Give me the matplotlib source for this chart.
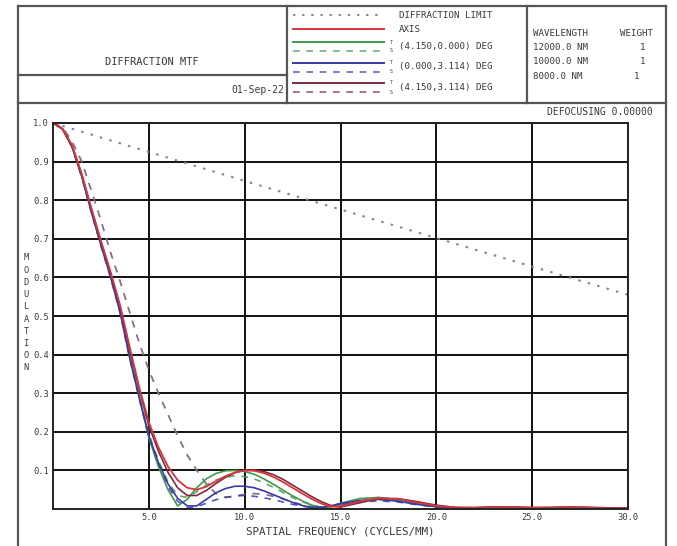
import matplotlib
matplotlib.use("Agg")
import matplotlib.pyplot as plt
from matplotlib.lines import Line2D

W, H = 677, 546

# spatial frequency samples (cycles/mm)
freq = [0, 0.5, 1, 1.5, 2, 2.5, 3, 3.5, 4, 4.5,
        5, 5.5, 6, 6.5, 7, 7.5, 8, 8.5, 9, 9.5, 10, 10.5, 11, 11.5, 12, 12.5, 13, 13.5, 14, 14.5, 15,
        16, 17, 18, 19, 20, 21, 22, 23, 24, 25, 26, 27, 28, 29, 30]

diff_freq = [0, 5, 10, 15, 20, 25, 30]
diff_limit = [1.0, 0.925, 0.85, 0.776, 0.702, 0.628, 0.555]

axis_t = [1.0, 0.985, 0.942, 0.868, 0.78, 0.695, 0.615, 0.528, 0.42, 0.315,
          0.225, 0.16, 0.11, 0.075, 0.055, 0.05, 0.058, 0.072, 0.085, 0.095, 0.1, 0.099, 0.093, 0.083,
          0.07, 0.055, 0.04, 0.026, 0.014, 0.006, 0.006,
          0.02, 0.028, 0.026, 0.017, 0.008, 0.004, 0.003, 0.004, 0.004, 0.003, 0.003, 0.004, 0.003, 0.002, 0.002]
f1_t = [1.0, 0.984, 0.938, 0.862, 0.772, 0.686, 0.605, 0.512, 0.395, 0.29,
        0.185, 0.11, 0.05, 0.008, 0.025, 0.055, 0.078, 0.092, 0.099, 0.1, 0.097, 0.09, 0.078, 0.064,
        0.049, 0.034, 0.021, 0.01, 0.004, 0.007, 0.015,
        0.027, 0.03, 0.024, 0.014, 0.006, 0.003, 0.004, 0.005, 0.004, 0.003, 0.004, 0.005, 0.004, 0.003, 0.002]
f1_s = [1.0, 0.984, 0.939, 0.864, 0.774, 0.688, 0.607, 0.515, 0.4, 0.295,
        0.195, 0.125, 0.07, 0.035, 0.03, 0.045, 0.062, 0.075, 0.083, 0.086, 0.084, 0.078, 0.068, 0.056,
        0.043, 0.03, 0.019, 0.01, 0.005, 0.006, 0.012,
        0.022, 0.026, 0.022, 0.014, 0.007, 0.003, 0.003, 0.004, 0.004, 0.003, 0.003, 0.004, 0.003, 0.002, 0.002]
f2_t = [1.0, 0.984, 0.938, 0.862, 0.77, 0.684, 0.602, 0.51, 0.392, 0.288,
        0.19, 0.12, 0.065, 0.028, 0.008, 0.008, 0.025, 0.042, 0.053, 0.059, 0.059, 0.055, 0.047, 0.037,
        0.027, 0.017, 0.009, 0.004, 0.004, 0.008, 0.014,
        0.022, 0.025, 0.02, 0.012, 0.006, 0.003, 0.003, 0.004, 0.003, 0.003, 0.003, 0.003, 0.003, 0.002, 0.002]
f2_s = [1.0, 0.984, 0.937, 0.86, 0.768, 0.682, 0.6, 0.508, 0.39, 0.285,
        0.185, 0.115, 0.058, 0.02, 0.003, 0.006, 0.015, 0.024, 0.03, 0.034, 0.035, 0.033, 0.029, 0.024,
        0.018, 0.012, 0.007, 0.004, 0.004, 0.007, 0.011,
        0.018, 0.021, 0.018, 0.011, 0.005, 0.003, 0.002, 0.003, 0.003, 0.002, 0.002, 0.003, 0.002, 0.002, 0.002]
f3_t = [1.0, 0.985, 0.94, 0.866, 0.777, 0.692, 0.612, 0.524, 0.414, 0.31,
        0.215, 0.15, 0.095, 0.055, 0.035, 0.035, 0.048, 0.066, 0.082, 0.094, 0.1, 0.101, 0.097, 0.089,
        0.077, 0.062, 0.047, 0.032, 0.019, 0.009, 0.005,
        0.016, 0.027, 0.027, 0.019, 0.01, 0.004, 0.003, 0.005, 0.005, 0.004, 0.004, 0.005, 0.004, 0.003, 0.002]
f3_s = [1.0, 0.988, 0.952, 0.9, 0.825, 0.748, 0.665, 0.59, 0.51, 0.43,
        0.36, 0.3, 0.245, 0.19, 0.14, 0.1, 0.065, 0.04, 0.03, 0.033, 0.038, 0.04, 0.038, 0.033,
        0.026, 0.018, 0.011, 0.006, 0.004, 0.006, 0.011,
        0.02, 0.025, 0.022, 0.014, 0.007, 0.003, 0.003, 0.004, 0.004, 0.003, 0.003, 0.004, 0.003, 0.002, 0.002]

x_ticks = [5, 10, 15, 20, 25, 30]
y_ticks = [0.1, 0.2, 0.3, 0.4, 0.5, 0.6, 0.7, 0.8, 0.9, 1.0]

field_labels = ["(4.150,0.000) DEG", "(0.000,3.114) DEG", "(4.150,3.114) DEG"]
wavelengths = ["12000.0 NM", "10000.0 NM", "8000.0 NM"]
weights = ["1", "1", "1"]

RED = "#d8343c"
GREEN = "#3f9a4a"
BLUE = "#3838a8"
MAROON = "#7c2a3c"
DOT = "#8c809c"
TXT = "#3a3a3a"
MONO = "DejaVu Sans Mono"
DASH = (0, (4, 4))
DOTS = (0, (1.2, 3.5))


def fx(px):
    return px / W


def fy(py):
    return 1 - py / H


def hline(fig, y, x0, x1, lw=1.6, color="#555555"):
    fig.add_artist(Line2D([fx(x0), fx(x1)], [fy(y), fy(y)], color=color, lw=lw))


def vline(fig, x, y0, y1, lw=1.6, color="#555555"):
    fig.add_artist(Line2D([fx(x), fx(x)], [fy(y0), fy(y1)], color=color, lw=lw))


fig = plt.figure(figsize=(W / 100, H / 100), dpi=100)
fig.patch.set_facecolor("white")

# outer frame and header boxes
hline(fig, 6, 18, 666)
vline(fig, 18, 6, 545)
vline(fig, 666, 6, 545)
hline(fig, 75, 18, 287)
hline(fig, 103, 18, 666)
vline(fig, 287, 6, 103)
vline(fig, 527, 6, 103)

fig.text(fx(152), fy(62), "DIFFRACTION MTF", family=MONO, fontsize=7.5, color=TXT,
         ha="center", va="center")
fig.text(fx(284), fy(90), "01-Sep-22", family=MONO, fontsize=7, color=TXT,
         ha="right", va="center")

# legend block
lx0, lx1 = 293, 384
fig.add_artist(Line2D([fx(lx0), fx(lx1)], [fy(15)] * 2, color=DOT, lw=1.4, ls=DOTS))
fig.text(fx(399), fy(15), "DIFFRACTION LIMIT", family=MONO, fontsize=6.6, color=TXT, va="center")
fig.add_artist(Line2D([fx(lx0), fx(lx1)], [fy(29)] * 2, color=RED, lw=1.4))
fig.text(fx(399), fy(29), "AXIS", family=MONO, fontsize=6.6, color=TXT, va="center")
for i, (lab, c) in enumerate(zip(field_labels, [GREEN, BLUE, MAROON])):
    yt = 42 + i * 20.5
    ys = yt + 9
    fig.add_artist(Line2D([fx(lx0), fx(lx1)], [fy(yt)] * 2, color=c, lw=1.4))
    fig.add_artist(Line2D([fx(lx0), fx(lx1)], [fy(ys)] * 2, color=c, lw=1.2, ls=DASH, alpha=0.75))
    fig.text(fx(391), fy(yt), "T", family=MONO, fontsize=3.5, color=TXT, ha="center", va="center")
    fig.text(fx(391), fy(ys), "S", family=MONO, fontsize=3.5, color=TXT, ha="center", va="center")
    fig.text(fx(399), fy((yt + ys) / 2), lab, family=MONO, fontsize=6.6, color=TXT, va="center")

# wavelength block
fig.text(fx(533), fy(33), "WAVELENGTH", family=MONO, fontsize=6.6, color=TXT, va="center")
fig.text(fx(653), fy(33), "WEIGHT", family=MONO, fontsize=6.6, color=TXT, va="center", ha="right")
for i, (wl, wt) in enumerate(zip(wavelengths, weights)):
    yy = 47 + i * 15
    fig.text(fx(533), fy(yy), wl, family=MONO, fontsize=6.6, color=TXT, va="center")
    fig.text(fx(645 if i < 2 else 639), fy(yy), wt, family=MONO, fontsize=6.6, color=TXT,
             va="center", ha="right")

fig.text(fx(653), fy(112), "DEFOCUSING 0.00000", family=MONO, fontsize=7, color=TXT,
         ha="right", va="center")

# plot area
ax = fig.add_axes([fx(53), fy(509), fx(628) - fx(53), fy(123) - fy(509)])
ax.plot(diff_freq, diff_limit, color=DOT, lw=1.5, ls=DOTS)
ax.plot(freq, f3_s, color="#8a6f84", lw=1.3, ls=DASH)
ax.plot(freq, f1_s, color=GREEN, lw=1.2, ls=DASH, alpha=0.85)
ax.plot(freq, f2_s, color=BLUE, lw=1.2, ls=DASH, alpha=0.85)
ax.plot(freq, f1_t, color=GREEN, lw=1.2)
ax.plot(freq, f2_t, color=BLUE, lw=1.2)
ax.plot(freq, f3_t, color=MAROON, lw=1.2)
ax.plot(freq, axis_t, color=RED, lw=1.3)

ax.set_xlim(0, 30)
ax.set_ylim(0, 1)
ax.set_xticks(x_ticks)
ax.set_xticklabels([f"{v:.1f}" for v in x_ticks])
ax.set_yticks(y_ticks)
ax.set_yticklabels([f"{v:.1f}" for v in y_ticks])
ax.tick_params(length=0, labelsize=6.3, labelcolor=TXT, pad=3)
for lab in ax.get_xticklabels() + ax.get_yticklabels():
    lab.set_family(MONO)
ax.grid(True, color="#111111", lw=1.4)
ax.set_axisbelow(True)
for sp in ax.spines.values():
    sp.set_color("#222222")
    sp.set_linewidth(1.4)

fig.text(fx(340), fy(532), "SPATIAL FREQUENCY (CYCLES/MM)", family=MONO, fontsize=7.8,
         color=TXT, ha="center", va="center")

# stacked vertical axis label
for i, ch in enumerate("MODULATION"):
    fig.text(fx(26), fy(258 + i * 12.2), ch, family=MONO, fontsize=6.3, color=TXT,
             ha="center", va="center")

fig.savefig("out.png", dpi=100, facecolor="white")
